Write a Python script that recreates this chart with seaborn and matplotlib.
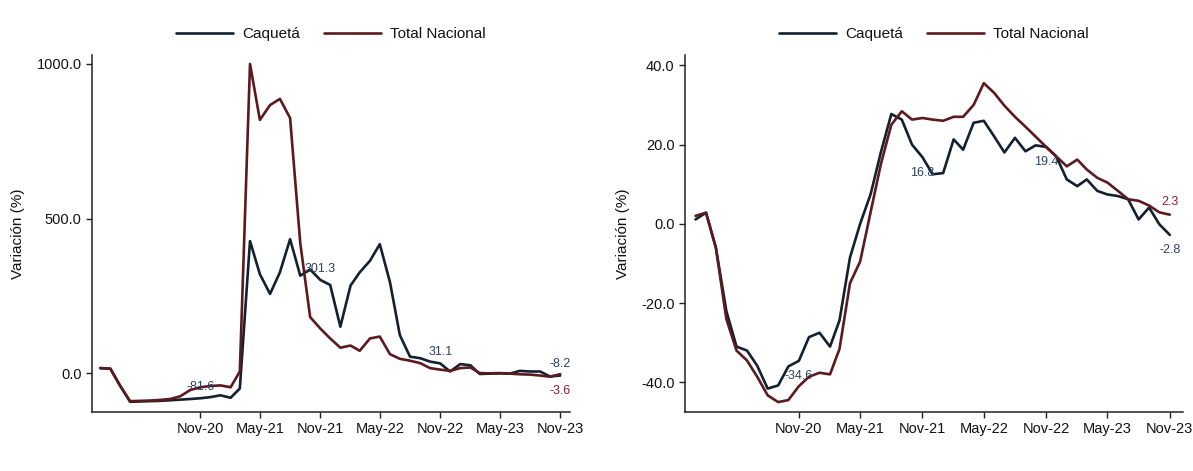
import pandas as pd
import matplotlib
matplotlib.use("Agg")
import matplotlib.pyplot as plt
import matplotlib.dates as mdates
import seaborn as sns

# Monthly series, Jan-20 .. Nov-23
months = pd.date_range("2020-01-01", "2023-11-01", freq="MS")

# Left panel (large scale)
caq_left = [16, 14, -40, -93, -92, -91, -90, -88, -86, -84, -81.6, -78, -72, -80, -50,
            427, 320, 256, 326, 433, 315, 335, 301.3, 285, 150, 283, 326, 363, 417, 294,
            123, 53, 48, 37, 31.1, 5, 29, 25, -3, -2, -1, -2, 7, 5, 5, -11, -8.2]
nac_left = [16, 14, -40, -91, -90, -89, -87, -84, -75, -55, -46, -42, -40, -46, 5,
            1000, 819, 867, 887, 825, 420, 181, 144, 112, 82, 89, 72, 112, 118, 61,
            46, 40, 32, 16, 11, 7, 16, 18, 0, -1, 0, -2, -4, -5, -8, -12, -3.6]

# Right panel
caq_right = [1.1, 2.8, -6, -22, -31, -32, -35.8, -41.6, -40.8, -36, -34.6, -28.6, -27.5, -31,
             -24.4, -8.5, 0, 7.5, 18, 27.7, 26.3, 20, 16.8, 12.5, 12.8, 21.3, 18.7, 25.5, 26,
             22, 18, 21.7, 18.3, 19.8, 19.4, 17, 11.2, 9.5, 11.2, 8.3, 7.4, 7, 6.2, 1.1, 4.1,
             -0.1, -2.8]
nac_right = [2.0, 2.8, -6, -24, -32, -34.5, -38.6, -43.3, -45, -44.5, -41, -38.6, -37.6, -38,
             -31.6, -15, -9.5, 3, 15, 25, 28.4, 26.3, 26.7, 26.3, 26, 27, 27, 30, 35.5, 33,
             29.8, 27, 24.5, 22, 19.4, 17, 14.5, 16.2, 13.7, 11.6, 10.4, 8.3, 6.2, 5.8, 4.6,
             2.9, 2.3]

series_names = ["Caquetá", "Total Nacional"]
line_colors = ["#14202e", "#5c1a1f"]
label_colors = ["#2c4160", "#8c1f2e"]
tick_dates = pd.to_datetime(["2020-11-01", "2021-05-01", "2021-11-01", "2022-05-01",
                             "2022-11-01", "2023-05-01", "2023-11-01"])
label_idx = [10, 22, 34, 46]

sns.set_style("ticks")
plt.rcParams["font.family"] = ["Liberation Sans", "DejaVu Sans"]
plt.rcParams["text.color"] = "#111111"


def draw_panel(ax, caq, nac, yticks, ylim, xlim, caq_off, nac_off):
    df = pd.DataFrame({
        "fecha": list(months) * 2,
        "valor": caq + nac,
        "serie": [series_names[0]] * len(months) + [series_names[1]] * len(months),
    })
    sns.lineplot(data=df, x="fecha", y="valor", hue="serie",
                 palette=dict(zip(series_names, line_colors)), lw=1.9, ax=ax)

    # point labels
    for i in label_idx:
        ax.annotate(f"{caq[i]:.1f}", (months[i], caq[i]), xytext=(0, caq_off),
                    textcoords="offset points", ha="center", va="center",
                    fontsize=9, color=label_colors[0])
    ax.annotate(f"{nac[-1]:.1f}", (months[-1], nac[-1]), xytext=(0, nac_off),
                textcoords="offset points", ha="center", va="center",
                fontsize=9, color=label_colors[1])

    handles, labels = ax.get_legend_handles_labels()
    ax.legend(handles, labels, loc="lower center", bbox_to_anchor=(0.5, 1.0), ncol=2,
              frameon=False, fontsize=11, handlelength=3.7, columnspacing=1.6,
              handletextpad=0.6)

    ax.set_ylim(*ylim)
    ax.set_yticks(yticks)
    ax.set_yticklabels([f"{v:.1f}" for v in yticks])
    ax.set_xlim(*xlim)
    ax.set_xticks(tick_dates)
    ax.xaxis.set_major_formatter(mdates.DateFormatter("%b-%y"))
    ax.set_xlabel("")
    ax.set_ylabel("Variación (%)", fontsize=11, labelpad=8, color="#111111")
    ax.tick_params(axis="both", labelsize=10.5, length=4, width=1, color="#222222",
                   labelcolor="#111111")
    for s in ["left", "bottom"]:
        ax.spines[s].set_color("#222222")
        ax.spines[s].set_linewidth(1.1)
    sns.despine(ax=ax)


fig = plt.figure(figsize=(11.93, 4.71), dpi=100)
ax1 = fig.add_axes([0.0771, 0.1253, 0.4007, 0.7579])
ax2 = fig.add_axes([0.5742, 0.1253, 0.4174, 0.7579])

draw_panel(ax1, caq_left, nac_left, [0, 500, 1000], (-126, 1029),
           (pd.Timestamp("2019-12-07"), pd.Timestamp("2023-12-01")), 8, -12)
draw_panel(ax2, caq_right, nac_right, [-40, -20, 0, 20, 40], (-47.5, 42.6),
           (pd.Timestamp("2019-12-01"), pd.Timestamp("2023-12-10")), -11, 9)

fig.savefig("out.png", dpi=100)
